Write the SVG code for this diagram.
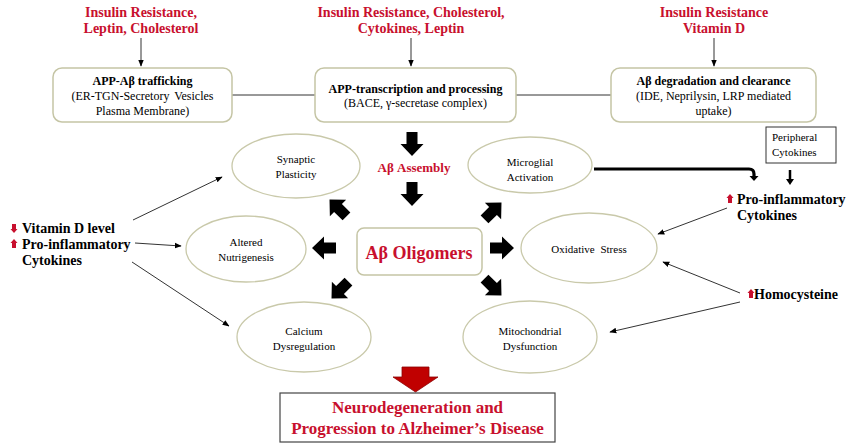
<svg xmlns="http://www.w3.org/2000/svg" xmlns:xlink="http://www.w3.org/1999/xlink" width="850" height="447" viewBox="0 0 850 447">
<style>
text{font-family:"Liberation Serif","Times New Roman",serif;}
.red{fill:#c8102e;font-weight:bold;}
.lbl{font-size:14px;}
.bt{font-size:12px;font-weight:bold;fill:#000;}
.bs{font-size:12px;fill:#000;}
.et{font-size:11px;fill:#000;}
.box{fill:#fff;stroke:#c5c5a5;stroke-width:1.5;}
.ell{fill:#fff;stroke:#c9c9aa;stroke-width:1.3;}
.ln{stroke:#333;stroke-width:1;fill:none;}
.blk{font-size:14px;font-weight:bold;fill:#000;}
</style>
<defs>
<marker id="ah" viewBox="0 0 10 10" refX="9" refY="5" markerWidth="7" markerHeight="7" orient="auto" markerUnits="userSpaceOnUse">
<path d="M0,1 L10,5 L0,9 Z" fill="#000"/>
</marker>
<path id="blk" d="M-12,-5.5 H0 V-11.5 L12,0 L0,11.5 V5.5 H-12 Z" fill="#000"/>
<path id="up" d="M-2,4 V-1 H-3.5 L0,-5 L3.5,-1 H2 V4 Z" fill="#c8102e"/>
</defs>

<g id="labels-top">
<text class="red lbl" x="141" y="17" text-anchor="middle">Insulin Resistance,</text>
<text class="red lbl" x="141" y="33" text-anchor="middle">Leptin, Cholesterol</text>
<text class="red lbl" x="411" y="17" text-anchor="middle">Insulin Resistance, Cholesterol,</text>
<text class="red lbl" x="411" y="33" text-anchor="middle">Cytokines, Leptin</text>
<text class="red lbl" x="714" y="17" text-anchor="middle">Insulin Resistance</text>
<text class="red lbl" x="714" y="33" text-anchor="middle">Vitamin D</text>
</g>

<g id="connectors">
<line class="ln" x1="141" y1="38" x2="141" y2="66" marker-end="url(#ah)"/>
<line class="ln" x1="411" y1="38" x2="411" y2="66" marker-end="url(#ah)"/>
<line class="ln" x1="714" y1="38" x2="714" y2="66" marker-end="url(#ah)"/>
<line class="ln" x1="232" y1="95" x2="315" y2="95"/>
<line class="ln" x1="516" y1="95" x2="611" y2="95"/>
<line class="ln" x1="133" y1="220" x2="222" y2="177" marker-end="url(#ah)"/>
<line class="ln" x1="135" y1="243" x2="181" y2="246" marker-end="url(#ah)"/>
<line class="ln" x1="132" y1="262" x2="229" y2="326" marker-end="url(#ah)"/>
<line class="ln" x1="727" y1="208" x2="658" y2="234" marker-end="url(#ah)"/>
<line class="ln" x1="740" y1="293" x2="663" y2="262" marker-end="url(#ah)"/>
<line class="ln" x1="740" y1="302" x2="610" y2="332" marker-end="url(#ah)"/>
<path d="M594,169 H749 Q754,169 754,174 V177" stroke="#000" stroke-width="3.2" fill="none"/>
<path d="M749.5,176 L758.5,176 L754,181 Z" fill="#000"/>
<line x1="790" y1="170" x2="790" y2="180" stroke="#000" stroke-width="2.5"/>
<path d="M786,179 L794,179 L790,185 Z" fill="#000"/>
<use xlink:href="#blk" transform="translate(412,144) rotate(90)"/>
<use xlink:href="#blk" transform="translate(412,194) rotate(90)"/>
<use xlink:href="#blk" transform="translate(324,248) rotate(180)"/>
<use xlink:href="#blk" transform="translate(502,248)"/>
<use xlink:href="#blk" transform="translate(338,208) rotate(225)"/>
<use xlink:href="#blk" transform="translate(493,211) rotate(-45)"/>
<use xlink:href="#blk" transform="translate(340,290) rotate(135)"/>
<use xlink:href="#blk" transform="translate(493,287) rotate(45)"/>
<path d="M402,367 H429 V377 H438 L415.5,392 L393,377 H402 Z" fill="#c00000" stroke="#8a0000" stroke-width="0.8"/>
</g>

<g id="box-trafficking">
<rect class="box" x="53" y="68" width="179" height="54" rx="9"/>
<text class="bt" x="142.5" y="85" text-anchor="middle">APP-Aβ  trafficking</text>
<text class="bs" x="142.5" y="100" text-anchor="middle" word-spacing="2">(ER-TGN-Secretory Vesicles</text>
<text class="bs" x="142.5" y="115" text-anchor="middle">Plasma Membrane)</text>
</g>

<g id="box-transcription">
<rect class="box" x="315" y="68" width="201" height="54" rx="9"/>
<text class="bt" x="415.5" y="93" text-anchor="middle">APP-transcription  and processing</text>
<text class="bs" x="415.5" y="107" text-anchor="middle">(BACE, γ-secretase complex)</text>
</g>

<g id="box-degradation">
<rect class="box" x="611" y="68" width="205" height="54" rx="9"/>
<text class="bt" x="713.5" y="85" text-anchor="middle">Aβ degradation  and clearance</text>
<text class="bs" x="713.5" y="100" text-anchor="middle">(IDE, Neprilysin,  LRP mediated</text>
<text class="bs" x="713.5" y="115" text-anchor="middle">uptake)</text>
</g>

<g id="peripheral">
<rect x="766" y="127" width="70" height="36" fill="#fff" stroke="#333" stroke-width="1"/>
<text class="et" x="772" y="141">Peripheral</text>
<text class="et" x="772" y="156">Cytokines</text>
</g>

<g id="assembly">
<text class="red" x="414" y="172" font-size="13" text-anchor="middle">Aβ Assembly</text>
</g>

<g id="oligomers">
<rect class="box" x="357" y="228" width="125" height="47" rx="7"/>
<text class="red" x="419" y="259" font-size="18" text-anchor="middle">Aβ Oligomers</text>
</g>

<g id="synaptic">
<ellipse class="ell" cx="296" cy="166" rx="64" ry="32"/>
<text class="et" x="296" y="163" text-anchor="middle">Synaptic</text>
<text class="et" x="296" y="178" text-anchor="middle">Plasticity</text>
</g>

<g id="nutrigenesis">
<ellipse class="ell" cx="246" cy="249" rx="60" ry="33"/>
<text class="et" x="246" y="246" text-anchor="middle">Altered</text>
<text class="et" x="246" y="261" text-anchor="middle">Nutrigenesis</text>
</g>

<g id="calcium">
<ellipse class="ell" cx="304" cy="337" rx="67" ry="35"/>
<text class="et" x="304" y="335" text-anchor="middle">Calcium</text>
<text class="et" x="304" y="350" text-anchor="middle">Dysregulation</text>
</g>

<g id="microglial">
<ellipse class="ell" cx="530" cy="165" rx="62" ry="28"/>
<text class="et" x="530" y="166" text-anchor="middle">Microglial</text>
<text class="et" x="530" y="181" text-anchor="middle">Activation</text>
</g>

<g id="oxidative">
<ellipse class="ell" cx="589" cy="248" rx="68" ry="35"/>
<text class="et" x="589" y="253" text-anchor="middle" word-spacing="3">Oxidative Stress</text>
</g>

<g id="mitochondrial">
<ellipse class="ell" cx="530" cy="337" rx="67" ry="36"/>
<text class="et" x="530" y="335" text-anchor="middle">Mitochondrial</text>
<text class="et" x="530" y="350" text-anchor="middle">Dysfunction</text>
</g>

<g id="left-factors">
<use xlink:href="#up" transform="translate(14,228) rotate(180)"/>
<text class="blk" x="22" y="233">Vitamin D level</text>
<use xlink:href="#up" transform="translate(14,244)"/>
<text class="blk" x="22" y="249">Pro-inflammatory</text>
<text class="blk" x="22" y="265">Cytokines</text>
</g>

<g id="right-cytokines">
<use xlink:href="#up" transform="translate(730,199)"/>
<text class="blk" x="737" y="204">Pro-inflammatory</text>
<text class="blk" x="737" y="220">Cytokines</text>
</g>

<g id="homocysteine">
<use xlink:href="#up" transform="translate(751,294)"/>
<text class="blk" x="754" y="299">Homocysteine</text>
</g>

<g id="outcome">
<rect x="280" y="393" width="275" height="49" fill="#fff" stroke="#444" stroke-width="1.2"/>
<text class="red" x="417.5" y="413" font-size="17" text-anchor="middle">Neurodegeneration and</text>
<text class="red" x="417.5" y="434" font-size="17" text-anchor="middle">Progression to Alzheimer’s  Disease</text>
</g>
</svg>
